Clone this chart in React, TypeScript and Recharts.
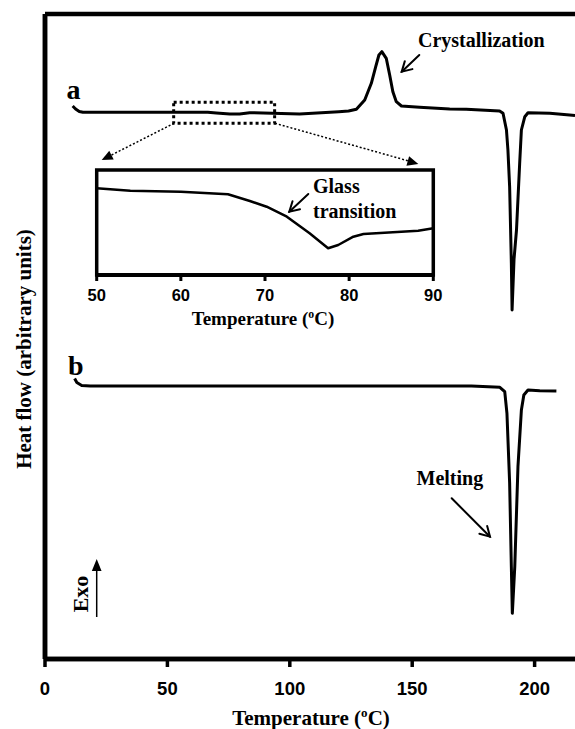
import React from 'react';
import { LineChart, Line, XAxis, YAxis, ReferenceLine, ReferenceArea, Label } from 'recharts';

// ---- Data ----
// Curve a: temperature (°C) and heat flow (arbitrary units)
const aTemp = [11.3, 12.5, 14, 15.5, 40, 66.5, 70, 75.5, 79.5, 83.6, 104, 120, 124, 127.2, 130.6, 133.3, 135.1, 136.4, 137.6, 139.4, 140.8, 142.1, 143.5, 145.6, 153, 165.3, 172.1, 185.7, 187.1, 188.5, 189.1, 189.8, 190.5, 190.8, 191.6, 192.6, 193.9, 194.6, 196, 197.3, 206.2, 214.3, 216.5];
const aHeat = [553, 550, 547.5, 546.7, 546.7, 546.7, 546, 545, 545, 546.3, 545, 547.3, 548, 549.7, 559, 575.7, 592.3, 604, 607.3, 600.7, 584, 567.3, 557.3, 553, 551.7, 550, 549.7, 548, 545.7, 529, 509, 472.3, 396, 349, 400, 429, 495.7, 529, 542.3, 546.3, 545.7, 544, 543.5];

// Curve b
const bTemp = [12.1, 13, 15, 18.5, 100, 174.2, 185.8, 187.8, 188.7, 189.8, 190.5, 190.9, 191.9, 193.2, 194.6, 195.6, 197.3, 202.1, 208.9];
const bHeat = [280.5, 276.5, 273.5, 273, 273, 273, 271.7, 267.3, 245.7, 176, 92.3, 45.7, 92.3, 192.3, 249, 264, 269, 268.3, 268];

// Inset (glass transition region of curve a)
const insetTemp = [50, 54, 60, 65.6, 68.2, 70.2, 72.6, 75.3, 77.5, 78.7, 80.5, 81.7, 88.2, 90];
const insetHeat = [86.7, 84.3, 83.3, 80.7, 74, 68.3, 58.3, 41.7, 26.7, 30, 38.3, 41, 44.3, 46.7];

const mainTicks = [0, 50, 100, 150, 200];
const insetTicks = [50, 60, 70, 80, 90];

const mainXDomain = [0, 216.5];
const mainYDomain = [0, 645];
const insetXDomain = [50, 90];
const insetYDomain = [0, 105];

// zoom window drawn on curve a
const zoomBox = { x1: 52.56, x2: 93.8, y1: 535.7, y2: 556.7 };

const curveA = aTemp.map((t, i) => ({ t, h: aHeat[i] }));
const curveB = bTemp.map((t, i) => ({ t, h: bHeat[i] }));
const curveInset = insetTemp.map((t, i) => ({ t, h: insetHeat[i] }));

const SERIF = "'Liberation Serif', 'Times New Roman', serif";
const SANS = "'Liberation Sans', Arial, sans-serif";

const MainTick = (props: any) => {
  const { x, y, payload } = props;
  return (
    <text x={x} y={y + 26} textAnchor="middle" fontFamily={SANS} fontWeight="bold" fontSize={18.5} fill="#000">
      {payload.value}
    </text>
  );
};

const InsetTick = (props: any) => {
  const { x, y, payload } = props;
  return (
    <text x={x} y={y + 18} textAnchor="middle" fontFamily={SANS} fontWeight="bold" fontSize={16.5} fill="#000">
      {payload.value}
    </text>
  );
};

const TempTitle = (cx: number, y: number, fs: number) => (
  <text x={cx} y={y} textAnchor="middle" fontFamily={SERIF} fontWeight="bold" fontSize={fs} fill="#000">
    Temperature (
    <tspan fontSize={fs * 0.62} dy={-fs * 0.38}>o</tspan>
    <tspan dy={fs * 0.38}>C)</tspan>
  </text>
);

function vHead(tx: number, ty: number, fx: number, fy: number, len = 10, ang = 28) {
  const dx = fx - tx, dy = fy - ty;
  const d = Math.hypot(dx, dy);
  const ux = dx / d, uy = dy / d;
  const a = (ang * Math.PI) / 180;
  const w1x = tx + len * (ux * Math.cos(a) - uy * Math.sin(a));
  const w1y = ty + len * (ux * Math.sin(a) + uy * Math.cos(a));
  const w2x = tx + len * (ux * Math.cos(-a) - uy * Math.sin(-a));
  const w2y = ty + len * (ux * Math.sin(-a) + uy * Math.cos(-a));
  return { w1x, w1y, w2x, w2y };
}

const OpenArrow = ({ fx, fy, tx, ty, w = 2 }: any) => {
  const h = vHead(tx, ty, fx, fy, 11, 30);
  return (
    <g stroke="#000" strokeWidth={w} fill="none" strokeLinecap="round">
      <line x1={fx} y1={fy} x2={tx} y2={ty} />
      <path d={`M${h.w1x},${h.w1y} L${tx},${ty} L${h.w2x},${h.w2y}`} />
    </g>
  );
};

const FilledHead = ({ fx, fy, tx, ty, len = 12, ang = 24 }: any) => {
  const h = vHead(tx, ty, fx, fy, len, ang);
  return <polygon points={`${tx},${ty} ${h.w1x},${h.w1y} ${h.w2x},${h.w2y}`} fill="#000" />;
};

export default function App() {
  return (
    <div style={{ position: 'absolute', left: 0, top: 0, width: 575, height: 729, background: '#fff' }}>
      <div style={{ position: 'absolute', left: 0, top: 0 }}>
        <LineChart width={575} height={729} margin={{ top: 14, right: 0, bottom: 0, left: 0 }}>
          <XAxis
            type="number"
            dataKey="t"
            domain={mainXDomain}
            allowDataOverflow
            ticks={mainTicks}
            interval={0}
            height={70}
            axisLine={{ stroke: '#000', strokeWidth: 4.5 }}
            tickLine={{ stroke: '#000', strokeWidth: 3.5 }}
            tickSize={8}
            tick={<MainTick />}
          >
            <Label content={() => TempTitle(311, 725, 21)} />
          </XAxis>
          <YAxis
            type="number"
            domain={mainYDomain}
            allowDataOverflow
            width={45}
            tick={false}
            tickLine={false}
            axisLine={{ stroke: '#000', strokeWidth: 4.5 }}
          >
            <Label
              content={() => (
                <text
                  x={31}
                  y={349}
                  transform="rotate(-90, 31, 349)"
                  textAnchor="middle"
                  fontFamily={SERIF}
                  fontWeight="bold"
                  fontSize={21}
                  fill="#000"
                >
                  Heat flow (arbitrary units)
                </text>
              )}
            />
          </YAxis>
          <ReferenceLine y={mainYDomain[1]} stroke="#000" strokeWidth={4.5} ifOverflow="visible" />
          <ReferenceLine x={mainXDomain[0]} stroke="#000" strokeWidth={4.5} ifOverflow="visible" />
          <ReferenceLine y={mainYDomain[0]} stroke="#000" strokeWidth={4.5} ifOverflow="visible" />
          <ReferenceArea
            x1={zoomBox.x1}
            x2={zoomBox.x2}
            y1={zoomBox.y1}
            y2={zoomBox.y2}
            fill="none"
            fillOpacity={0}
            stroke="#000"
            strokeWidth={3}
            strokeDasharray="3 3"
            ifOverflow="visible"
          />
          <Line data={curveA} dataKey="h" type="linear" dot={false} stroke="#000" strokeWidth={3} strokeLinejoin="round" isAnimationActive={false} />
          <Line data={curveB} dataKey="h" type="linear" dot={false} stroke="#000" strokeWidth={3} strokeLinejoin="round" isAnimationActive={false} />
        </LineChart>
      </div>

      <div style={{ position: 'absolute', left: 0, top: 0 }}>
        <LineChart width={575} height={340} margin={{ top: 170, right: 141.7, bottom: 0, left: 96.7 }}>
          <XAxis
            type="number"
            dataKey="t"
            domain={insetXDomain}
            allowDataOverflow
            ticks={insetTicks}
            interval={0}
            height={65}
            axisLine={{ stroke: '#000', strokeWidth: 4 }}
            tickLine={{ stroke: '#000', strokeWidth: 3 }}
            tickSize={6}
            tick={<InsetTick />}
          >
            <Label content={() => TempTitle(263, 325, 19)} />
          </XAxis>
          <YAxis type="number" domain={insetYDomain} allowDataOverflow hide />
          <ReferenceArea
            x1={insetXDomain[0]}
            x2={insetXDomain[1]}
            y1={insetYDomain[0]}
            y2={insetYDomain[1]}
            fill="none"
            fillOpacity={0}
            stroke="#000"
            strokeWidth={3.5}
            ifOverflow="visible"
          />
          <Line data={curveInset} dataKey="h" type="linear" dot={false} stroke="#000" strokeWidth={2.5} strokeLinejoin="round" isAnimationActive={false} />
        </LineChart>
      </div>

      <svg
        width={575}
        height={729}
        style={{ position: 'absolute', left: 0, top: 0, pointerEvents: 'none' }}
      >
        {/* connectors from zoom box to inset */}
        <line x1={174} y1={123.3} x2={106} y2={157.8} stroke="#000" strokeWidth={1.5} strokeDasharray="2 2" />
        <FilledHead fx={174} fy={123.3} tx={101.7} ty={160} />
        <line x1={275} y1={123.3} x2={413} y2={162.2} stroke="#000" strokeWidth={1.5} strokeDasharray="2 2" />
        <FilledHead fx={275} fy={123.3} tx={418.3} ty={164} />

        {/* curve labels */}
        <text x={66.5} y={99} fontFamily={SERIF} fontWeight="bold" fontSize={28} fill="#000">a</text>
        <text x={68} y={375} fontFamily={SERIF} fontWeight="bold" fontSize={28} fill="#000">b</text>

        {/* annotations */}
        <text x={418} y={47} fontFamily={SERIF} fontWeight="bold" fontSize={20} fill="#000">Crystallization</text>
        <OpenArrow fx={419.3} fy={55} tx={401.7} ty={71.7} />

        <text x={313} y={192.7} fontFamily={SERIF} fontWeight="bold" fontSize={20} fill="#000">Glass</text>
        <text x={313} y={218.3} fontFamily={SERIF} fontWeight="bold" fontSize={20} fill="#000">transition</text>
        <OpenArrow fx={308.3} fy={194} tx={289.3} ty={211.7} />

        <text x={416.5} y={485} fontFamily={SERIF} fontWeight="bold" fontSize={20} fill="#000">Melting</text>
        <OpenArrow fx={451.7} fy={498.3} tx={490} ty={536.7} />

        {/* Exo indicator */}
        <text
          x={88}
          y={594}
          transform="rotate(-90, 88, 594)"
          textAnchor="middle"
          fontFamily={SERIF}
          fontWeight="bold"
          fontSize={22}
          fill="#000"
        >
          Exo
        </text>
        <line x1={96.7} y1={617} x2={96.7} y2={568} stroke="#000" strokeWidth={1.5} />
        <FilledHead fx={96.7} fy={617} tx={96.7} ty={559} len={13} ang={22} />
      </svg>
    </div>
  );
}
